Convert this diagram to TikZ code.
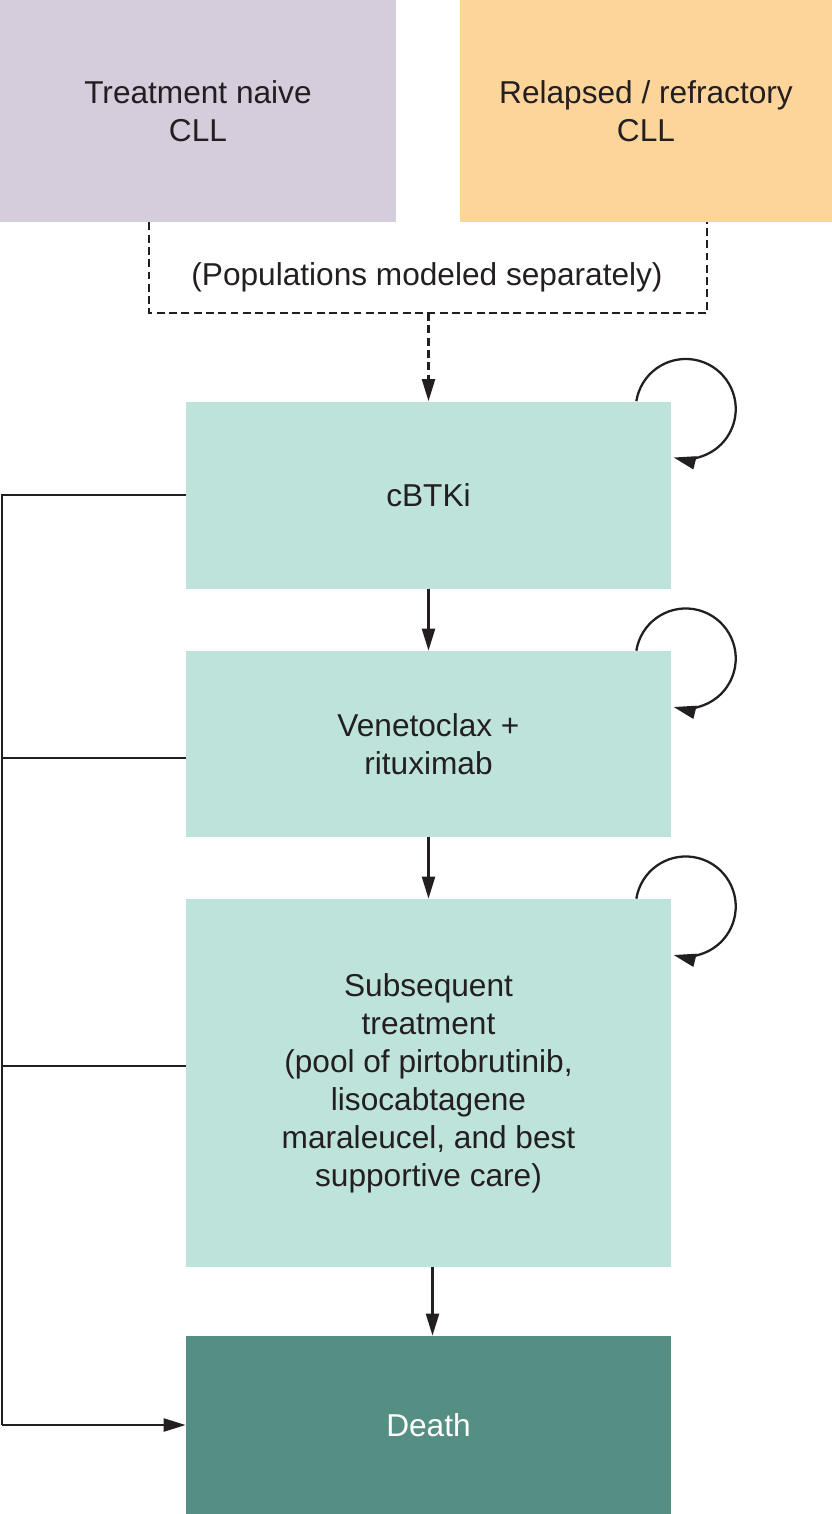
\documentclass[tikz,border=0pt]{standalone}
\usepackage{fontspec}
\setmainfont{Liberation Sans}
\usetikzlibrary{arrows.meta, positioning, calc}
\definecolor{naivefill}{HTML}{D5CCDC}
\definecolor{relapsefill}{HTML}{FDD59B}
\definecolor{statefill}{HTML}{BEE3DB}
\definecolor{deathfill}{HTML}{558F83}
\definecolor{inkdark}{HTML}{231F20}
\tikzset{
  pop/.style={minimum height=4.44cm, align=center, inner sep=0pt,
              text=inkdark, font=\fontsize{18}{21.6}\selectfont},
  state/.style={fill=statefill, minimum width=9.7cm, align=center, inner sep=0pt,
                text=inkdark, font=\fontsize{18}{21.6}\selectfont},
  flow/.style={-{Triangle[length=4.4mm, width=2.6mm]}, line width=1.3pt, draw=inkdark},
  link/.style={line width=1.3pt, draw=inkdark},
  dashlink/.style={line width=1.2pt, draw=inkdark, dash pattern=on 4.5pt off 2.5pt},
}

\begin{document}
\begin{tikzpicture}
  \useasboundingbox (0,0) rectangle (16.64,-30.28);
  \node[pop, fill=naivefill, minimum width=7.92cm] (naive) at (3.96,-2.22) {Treatment naive\\CLL};
  \node[pop, fill=relapsefill, minimum width=7.44cm] (relapsed) at (12.92,-2.22) {Relapsed / refractory\\CLL};
  \node[text=inkdark, font=\fontsize{18}{21.6}\selectfont] (sep) at (8.54,-5.55) {(Populations modeled separately)};
  \node[state, minimum height=3.74cm] (btki) at (8.57,-9.9) {cBTKi};
  \node[state, minimum height=3.72cm] (venr) at (8.57,-14.88) {Venetoclax +\\rituximab};
  \node[state, minimum height=7.36cm] (subs) at (8.57,-21.66) {Subsequent\\treatment\\(pool of pirtobrutinib,\\lisocabtagene\\maraleucel, and best\\supportive care)};
  \node[state, fill=deathfill, text=white, minimum height=3.56cm] (death) at (8.57,-28.5) {Death};
  \coordinate (dl) at (2.98,-6.26);
  \coordinate (dr) at (14.14,-6.26);
  \coordinate (dm) at (btki.north |- dl);
  \draw[dashlink] (naive.south -| dl) -- (dl) -- (dr) -- (relapsed.south -| dr);
  \draw[dashlink, -{Triangle[length=4.4mm, width=2.6mm]}] (dm) -- (btki.north);
  \draw[flow] (btki) -- (venr);
  \draw[flow] (venr) -- (subs);
  \draw[flow] ([xshift=0.08cm]subs.south) -- ([xshift=0.08cm]death.north);
  \foreach \s in {btki, venr, subs}{
    \draw[flow] ([xshift=-0.7cm]\s.north east) arc[start angle=171, end angle=-104, radius=1.0cm];
  }
  \coordinate (rail) at (0.04,0);
  \draw[link] (btki.west) -- (btki.west -| rail) -- (rail |- death.west);
  \draw[flow] (rail |- death.west) -- (death.west);
  \draw[link] ([yshift=-0.28cm]venr.west) -- ([yshift=-0.28cm]venr.west -| rail);
  \draw[link] ([yshift=0.34cm]subs.west) -- ([yshift=0.34cm]subs.west -| rail);
\end{tikzpicture}
\end{document}
